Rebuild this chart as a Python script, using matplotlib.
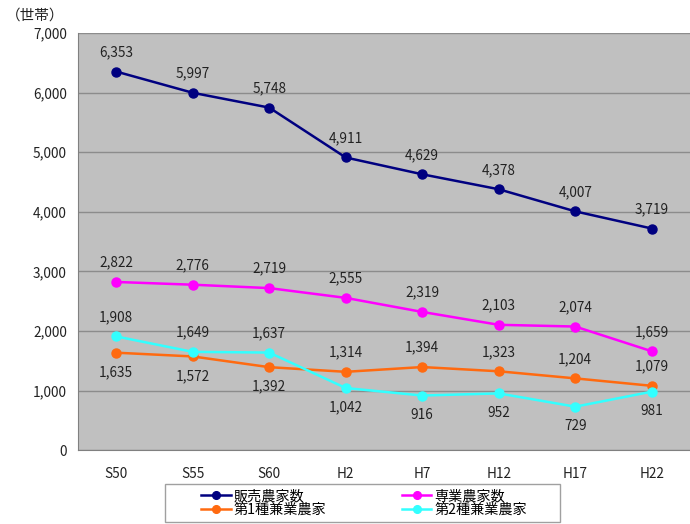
import matplotlib
matplotlib.use("Agg")
import matplotlib.pyplot as plt
from matplotlib.patches import Rectangle
from matplotlib.ticker import FuncFormatter

plt.rcParams['font.family'] = ['Noto Sans CJK JP', 'DejaVu Sans']

years = ["S50", "S55", "S60", "H2", "H7", "H12", "H17", "H22"]
hanbai = [6353, 5997, 5748, 4911, 4629, 4378, 4007, 3719]
sengyo = [2822, 2776, 2719, 2555, 2319, 2103, 2074, 1659]
kengyo1 = [1635, 1572, 1392, 1314, 1394, 1323, 1204, 1079]
kengyo2 = [1908, 1649, 1637, 1042, 916, 952, 729, 981]

names = ["販売農家数", "専業農家数", "第1種兼業農家", "第2種兼業農家"]
colors = ["#000080", "#FF00FF", "#FF6A10", "#33FFFF"]
# +1: label above point, -1: label below point
placement = [
    [1] * 8,
    [1] * 8,
    [-1, -1, -1, 1, 1, 1, 1, 1],
    [1, 1, 1, -1, -1, -1, -1, -1],
]

W, H = 690, 524
fig = plt.figure(figsize=(W / 100, H / 100), dpi=100)
ax = fig.add_axes([0.113, 0.141, 0.887, 0.796])
ax.set_facecolor("#C0C0C0")

x = list(range(len(years)))
series = [hanbai, sengyo, kengyo1, kengyo2]
lines = []
for vals, name, col, pl in zip(series, names, colors, placement):
    ln, = ax.plot(x, vals, color=col, lw=1.8, marker="o", ms=6.5, label=name, zorder=3)
    lines.append(ln)
    for xi, v, p in zip(x, vals, pl):
        ax.annotate(f"{v:,}", (xi, v), xytext=(0, 14 * p), textcoords="offset points",
                    ha="center", va="center", fontsize=9.8, color="#222222", zorder=4)

ax.set_xlim(-0.5, len(years) - 0.5)
ax.set_ylim(0, 7000)
ax.set_yticks(range(0, 7001, 1000))
ax.yaxis.set_major_formatter(FuncFormatter(lambda v, p: f"{int(v):,}"))
ax.set_xticks(x)
ax.set_xticklabels(years)
ax.tick_params(axis="both", length=0, labelsize=9.8, colors="#222222")
ax.tick_params(axis="y", pad=8)
ax.tick_params(axis="x", pad=12)
ax.grid(axis="y", color="#8C8C8C", lw=1.0)
ax.set_axisbelow(True)
for s in ["top", "right"]:
    ax.spines[s].set_visible(False)
ax.spines["left"].set_color("#808080")
ax.spines["bottom"].set_color("#808080")

fig.text(0.008, 0.97, "（世帯）", fontsize=10.5, ha="left", va="center", color="#222222")

# legend frame
fig.add_artist(Rectangle((165 / W, 2 / H), 395 / W, 38 / H, transform=fig.transFigure,
                         facecolor="white", edgecolor="#A0A0A0", lw=1.0, zorder=1))
order = [0, 2, 1, 3]
leg = fig.legend([lines[i] for i in order], [names[i] for i in order],
                 loc="center left", bbox_to_anchor=(194 / W, 2 / H, 340 / W, 38 / H),
                 mode="expand", ncol=2, frameon=False,
                 fontsize=10.2, handlelength=2.1, borderpad=0.0, labelspacing=0.0,
                 handletextpad=0.2, columnspacing=1.0, markerscale=0.85)
leg.set_zorder(2)

fig.savefig("out.png", dpi=100)
